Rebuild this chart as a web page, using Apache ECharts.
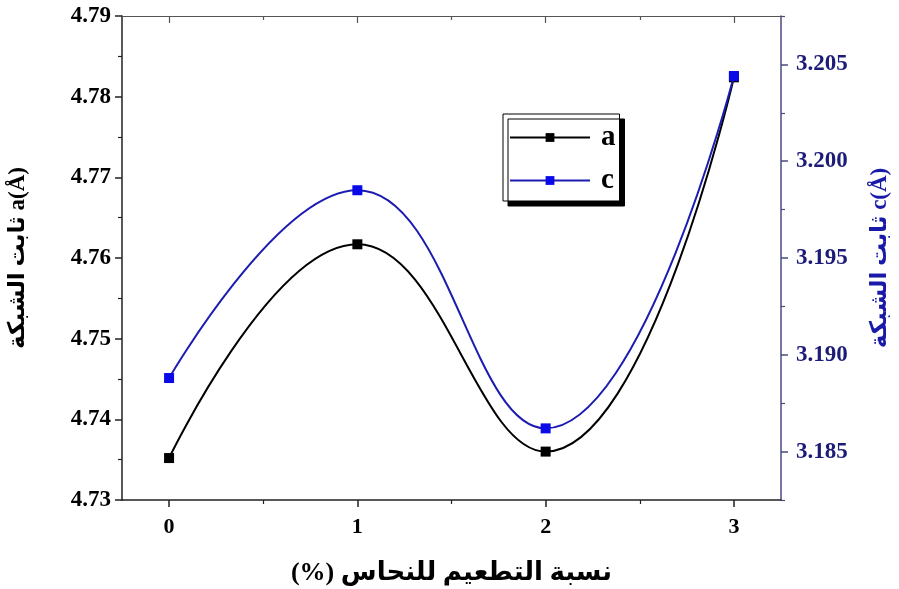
<!DOCTYPE html>
<html>
<head>
<meta charset="utf-8">
<script src="https://cdn.jsdelivr.net/npm/echarts@6/dist/echarts.min.js"></script>
<style>
html,body{margin:0;padding:0;background:#fff;}
#chart{width:899px;height:589px;}
</style>
</head>
<body>
<div id="chart"></div>
<script>
// ---- data ----
var dopingPct = [0, 1, 2, 3];
var latticeA = [4.7352, 4.7617, 4.7360, 4.7824];
var latticeC = [3.1888, 3.1985, 3.1862, 3.2044];
var xTickLabels = [0, 1, 2, 3];
var xMinorTicks = [0.5, 1.5, 2.5];
var aTickLabels = [4.73, 4.74, 4.75, 4.76, 4.77, 4.78, 4.79];
var cTickLabels = [3.185, 3.190, 3.195, 3.200, 3.205];
var cMinorTicks = [3.1825, 3.1875, 3.1925, 3.1975, 3.2025, 3.2075];
var seriesNames = ['a', 'c'];
var xTitle = 'نسبة التطعيم للنحاس (%)\u200F';
var aTitle = 'ثابت الشبكة a(Å)';
var cTitle = 'ثابت الشبكة c(Å)';

var FONT = '"Liberation Serif", "Times New Roman", "DejaVu Serif", serif';
var AFONT = '"Liberation Serif", "DejaVu Sans", serif';

function pairs(xs, ys) { return xs.map(function (x, i) { return [x, ys[i]]; }); }

var chart = echarts.init(document.getElementById('chart'), null, {renderer: 'canvas'});

var xBase = {
  type: 'value', min: -0.25, max: 3.25,
  splitLine: {show: false}
};

chart.setOption({
  backgroundColor: '#ffffff',
  animation: false,
  grid: {left: 122, right: 118, top: 16, bottom: 89, show: false, containLabel: false, outerBoundsMode: 'none'},
  legend: {
    orient: 'vertical',
    left: 503, top: 114,
    padding: [9, 4, 6, 6],
    itemGap: 14,
    itemWidth: 80,
    itemHeight: 11,
    backgroundColor: '#ffffff',
    borderColor: '#000000',
    borderWidth: 1,
    shadowColor: '#000000',
    shadowBlur: 0,
    shadowOffsetX: 5,
    shadowOffsetY: 5,
    textStyle: {fontFamily: FONT, fontWeight: 'bold', fontSize: 29, color: '#000', padding: [0, 0, 0, 6]},
    data: seriesNames
  },
  xAxis: [
    Object.assign({}, xBase, {
      position: 'bottom',
      name: xTitle, nameLocation: 'middle', nameGap: 60,
      nameTextStyle: {fontFamily: AFONT, fontWeight: 'bold', fontSize: 26, color: '#000'},
      axisLine: {show: true, onZero: false, lineStyle: {color: '#222', width: 1.5}},
      axisTick: {show: true, length: 7, customValues: xTickLabels, lineStyle: {color: '#222', width: 1.5}},
      axisLabel: {show: true, customValues: xTickLabels, margin: 16,
        fontFamily: FONT, fontWeight: 'bold', fontSize: 22, color: '#000'}
    }),
    Object.assign({}, xBase, {
      position: 'bottom',
      axisLine: {show: false, onZero: false},
      axisTick: {show: true, length: 4, customValues: xMinorTicks, lineStyle: {color: '#222', width: 1.2}},
      axisLabel: {show: false}
    }),
    Object.assign({}, xBase, {
      position: 'top',
      axisLine: {show: true, onZero: false, lineStyle: {color: '#555', width: 1.2}},
      axisTick: {show: true, inside: true, length: 7, customValues: xTickLabels, lineStyle: {color: '#555', width: 1.2}},
      axisLabel: {show: false}
    }),
    Object.assign({}, xBase, {
      position: 'top',
      axisLine: {show: false, onZero: false},
      axisTick: {show: true, inside: true, length: 4, customValues: xMinorTicks, lineStyle: {color: '#555', width: 1.2}},
      axisLabel: {show: false}
    })
  ],
  yAxis: [
    {
      type: 'value', position: 'left', min: 4.73, max: 4.79, interval: 0.01,
      name: aTitle, nameLocation: 'middle', nameRotate: 90, nameGap: 92,
      nameTextStyle: {fontFamily: AFONT, fontWeight: 'bold', fontSize: 23, color: '#000'},
      splitLine: {show: false},
      axisLine: {show: true, onZero: false, lineStyle: {color: '#222', width: 1.5}},
      axisTick: {show: true, length: 7, lineStyle: {color: '#222', width: 1.5}},
      minorTick: {show: true, splitNumber: 2, length: 4, lineStyle: {color: '#222', width: 1.2}},
      axisLabel: {margin: 11, fontFamily: FONT, fontWeight: 'bold', fontSize: 23, color: '#000',
        formatter: function (v) { return v.toFixed(2); }}
    },
    {
      type: 'value', position: 'right', min: 3.1825, max: 3.2075,
      name: cTitle, nameLocation: 'middle', nameRotate: 90, nameGap: 88,
      nameTextStyle: {fontFamily: AFONT, fontWeight: 'bold', fontSize: 23, color: '#1a1aa8'},
      splitLine: {show: false},
      axisLine: {show: true, onZero: false, lineStyle: {color: '#4a4a80', width: 1.5}},
      axisTick: {show: true, length: 7, customValues: cTickLabels, lineStyle: {color: '#4a4a80', width: 1.5}},
      axisLabel: {customValues: cTickLabels, margin: 15, fontFamily: FONT, fontWeight: 'bold', fontSize: 23, color: '#1c1c78',
        formatter: function (v) { return v.toFixed(3); }}
    },
    {
      type: 'value', position: 'right', min: 3.1825, max: 3.2075,
      splitLine: {show: false},
      axisLine: {show: false, onZero: false},
      axisTick: {show: true, length: 4, customValues: cMinorTicks, lineStyle: {color: '#4a4a80', width: 1.2}},
      axisLabel: {show: false}
    }
  ],
  series: [
    {
      name: seriesNames[0], type: 'line', xAxisIndex: 0, yAxisIndex: 0,
      data: pairs(dopingPct, latticeA),
      smooth: 0.45,
      symbol: 'rect', symbolSize: 10,
      lineStyle: {color: '#000', width: 2},
      itemStyle: {color: '#000'},
      z: 2
    },
    {
      name: seriesNames[1], type: 'line', xAxisIndex: 0, yAxisIndex: 1,
      data: pairs(dopingPct, latticeC),
      smooth: 0.45,
      symbol: 'rect', symbolSize: 10,
      lineStyle: {color: '#1c1cb0', width: 2},
      itemStyle: {color: '#0a0ae8'},
      z: 3
    }
  ]
});
</script>
</body>
</html>
